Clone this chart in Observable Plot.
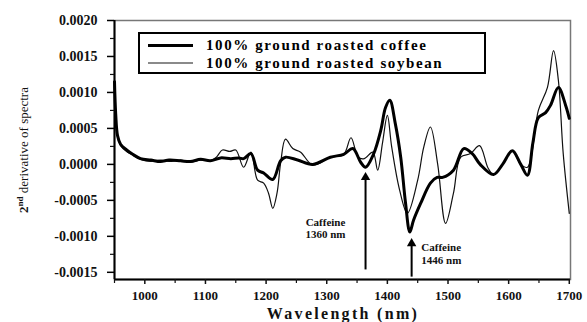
<!DOCTYPE html>
<html>
<head>
<meta charset="utf-8">
<script src="https://cdn.jsdelivr.net/npm/d3@7"></script>
<script src="https://cdn.jsdelivr.net/npm/@observablehq/plot@0.6"></script>
<style>
  html, body { margin: 0; padding: 0; background: #fff; }
  #wrap { position: relative; width: 587px; height: 322px; }
  #chart svg, #chart svg text { font-family: "Liberation Serif", "Times New Roman", "DejaVu Serif", serif !important; }
  #legend { position: absolute; left: 138px; top: 32px; width: 344px; height: 38px;
    border: 2px solid #000; font-family: "Liberation Serif", "Times New Roman", "DejaVu Serif", serif; font-weight: bold;
    font-size: 15px; letter-spacing: 1.6px; background: #fff; }
  .row { position: absolute; left: 0; height: 18px; white-space: nowrap; }
  .row .swatch { position: absolute; left: 8px; width: 45px; }
  .row .lbl { position: absolute; left: 66px; top: 0; line-height: 18px; }
</style>
</head>
<body>
<div id="wrap">
  <div id="chart"></div>
  <div id="legend"></div>
</div>
<script>
// ---- data ----
const seriesNames = ["100% ground roasted coffee", "100% ground roasted soybean"];

const coffeeNm = [950, 952, 955, 960, 970, 980, 993, 1010, 1026, 1040, 1059, 1075, 1092, 1108, 1125, 1142, 1155, 1163, 1175, 1186, 1196, 1211, 1224, 1232, 1252, 1277, 1306, 1328, 1343, 1356, 1364, 1377, 1389, 1397, 1404, 1413, 1422, 1430, 1437, 1443, 1455, 1471, 1482, 1491, 1509, 1526, 1540, 1553, 1575, 1590, 1606, 1620, 1631, 1640, 1649, 1661, 1669, 1682, 1694, 1700];
const coffeeVal = [0.00115, 0.0007, 0.0004, 0.00028, 0.0002, 0.00014, 0.00008, 0.00006, 0.00004, 0.00006, 0.00005, 0.00004, 0.00007, 0.00005, 0.00009, 0.00008, 0.00009, 0.00008, 0.00015, -0.00008, -0.00012, -0.00021, 0.00005, 0.0001, 0.00006, 0.0, 0.0001, 0.00014, 0.00022, 0.00003, -0.00004, 0.00014, 0.00047, 0.00079, 0.00089, 0.00057, 0.0001, -0.00054, -0.00094, -0.00078, -0.00054, -0.00026, -0.00018, -0.00018, -0.00008, 0.00022, 0.00015, 0.0, -0.00014, 0.0, 0.00019, 0.0, -0.00015, 0.0003, 0.00065, 0.00072, 0.00082, 0.00107, 0.00082, 0.00064];

const soyNm = [950, 952, 955, 960, 970, 980, 993, 1010, 1026, 1040, 1059, 1075, 1092, 1108, 1118, 1128, 1140, 1150, 1163, 1175, 1186, 1196, 1204, 1211, 1218, 1224, 1232, 1244, 1257, 1277, 1306, 1328, 1340, 1352, 1362, 1376, 1384, 1392, 1400, 1407, 1420, 1433, 1450, 1460, 1471, 1483, 1496, 1509, 1521, 1537, 1552, 1566, 1575, 1590, 1606, 1620, 1631, 1649, 1664, 1674, 1682, 1690, 1700];
const soyVal = [0.0011, 0.0007, 0.0004, 0.00026, 0.00018, 0.00013, 0.00007, 0.00004, 0.00006, 0.00004, 0.00006, 0.00003, 0.00006, 0.00005, 0.0001, 0.0002, 0.00018, 0.0002, -0.00004, 0.00017, -0.00022, -0.00026, -0.0004, -0.00061, -0.0004, 0.00002, 0.00035, 0.00022, 0.00017, -0.00001, 0.0001, 0.00014, 0.00037, 0.0001, 0.00008, 0.00017, -0.00008, 0.0003, 0.00068, 0.00025, -0.00035, -0.00068, -0.00022, 0.00024, 0.00052, 0.0, -0.00082, -0.0004, 0.0001, 0.00015, 0.00026, -0.00005, -0.00014, 0.0, 0.00019, 0.0, -0.00004, 0.00075, 0.00107, 0.00158, 0.00117, 0.00015, -0.00068];

const yTicks = [-0.0015, -0.001, -0.0005, 0, 0.0005, 0.001, 0.0015, 0.002];
const yTickLabels = ["-0.0015", "-0.0010", "-0.0005", "0.0000", "0.0005", "0.0010", "0.0015", "0.0020"];
const yMinorTicks = [-0.00125, -0.00075, -0.00025, 0.00025, 0.00075, 0.00125, 0.00175];
const xTicks = [1000, 1100, 1200, 1300, 1400, 1500, 1600, 1700];
const xMinorTicks = [950, 1050, 1150, 1250, 1350, 1450, 1550, 1650];

const annotations = [
  {label: "Caffeine\n1360 nm", tx: 1298, ty: -0.00088, ax: 1364, ay1: -0.00146, ay2: -0.00018},
  {label: "Caffeine\n1446 nm", tx: 1456, ty: -0.00124, ax: 1440, ay1: -0.00156, ay2: -0.0011}
];

// ---- build ----
const coffee = coffeeNm.map((x, i) => ({x, y: coffeeVal[i]}));
const soy = soyNm.map((x, i) => ({x, y: soyVal[i]}));
const xDomain = [950, 1702];
const yDomain = [-0.0016, 0.002];
const serif = "Liberation Serif, Times New Roman, DejaVu Serif, serif";

const chart = Plot.plot({
  width: 587,
  height: 322,
  marginLeft: 114,
  marginRight: 17,
  marginTop: 20,
  marginBottom: 43,
  style: {fontFamily: serif, fontSize: "14px", fontWeight: "bold", color: "#111", background: "#fff"},
  x: {domain: xDomain},
  y: {domain: yDomain},
  marks: [
    Plot.frame({stroke: "#777", strokeWidth: 1.5}),
    Plot.line(soy, {x: "x", y: "y", stroke: "#111", strokeWidth: 1.2, curve: "catmull-rom"}),
    Plot.line(coffee, {x: "x", y: "y", stroke: "#000", strokeWidth: 3, curve: "catmull-rom"}),
    Plot.ruleX([xDomain[0]], {stroke: "#000", strokeWidth: 2}),
    Plot.ruleY([yDomain[0]], {stroke: "#000", strokeWidth: 2}),
    Plot.axisY(yTicks, {tickSize: 7, tickPadding: 10, tickFormat: (d, i) => yTickLabels[i], label: null, stroke: "#000", strokeWidth: 1.5, style: "letter-spacing:1.2px"}),
    Plot.axisY(yMinorTicks, {tickSize: 4, tickFormat: () => "", label: null, strokeWidth: 1.2}),
    Plot.axisX(xTicks, {tickSize: 5, tickPadding: 6, fontSize: 13, tickFormat: d => String(d), label: null, strokeWidth: 1.5, style: "letter-spacing:1.9px"}),
    Plot.axisX(xMinorTicks, {tickSize: 4, tickFormat: () => "", label: null, strokeWidth: 1.2}),
    Plot.link(annotations, {x1: "ax", x2: "ax", y1: "ay1", y2: "ay2", stroke: "#000", strokeWidth: 2}),
    Plot.dot(annotations, {x: "ax", y: "ay2", symbol: "triangle", r: 3.5, fill: "#000", stroke: "none"}),
    Plot.text(annotations.slice(0, 1), {x: "tx", y: "ty", text: "label", textAnchor: "middle", fontSize: 11, fontWeight: "bold", lineHeight: 1.1, fill: "#111", style: "letter-spacing:1.3px"}),
    Plot.text(annotations.slice(1), {x: "tx", y: "ty", text: "label", textAnchor: "start", fontSize: 11, fontWeight: "bold", lineHeight: 1.1, fill: "#111", style: "letter-spacing:1.3px"})
  ]
});
document.getElementById("chart").appendChild(chart);

// axis titles
const svg = d3.select(chart);
svg.append("text")
  .attr("x", 343).attr("y", 319)
  .attr("text-anchor", "middle")
  .attr("font-size", 16).attr("font-weight", "bold")
  .style("letter-spacing", "2.3px")
  .text("Wavelength (nm)");
const yt = svg.append("text")
  .attr("transform", "translate(28,150) rotate(-90)")
  .attr("text-anchor", "middle")
  .attr("font-size", 13).attr("font-weight", "normal");
yt.append("tspan").attr("font-weight", "bold").text("2");
yt.append("tspan").attr("font-weight", "bold").attr("font-size", 9).attr("dy", -5).text("nd");
yt.append("tspan").attr("dy", 5).text(" derivative of spectra");

// legend
const legend = document.getElementById("legend");
const styles = [{h: 3, c: "#000"}, {h: 2, c: "#8a8a8a"}];
seriesNames.forEach((name, i) => {
  const row = document.createElement("div");
  row.className = "row";
  row.style.top = (i * 18 + 2) + "px";
  row.innerHTML = `<div class="swatch" style="top:${9 - styles[i].h / 2}px;height:${styles[i].h}px;background:${styles[i].c}"></div><div class="lbl">${name}</div>`;
  legend.appendChild(row);
});
</script>
</body>
</html>
